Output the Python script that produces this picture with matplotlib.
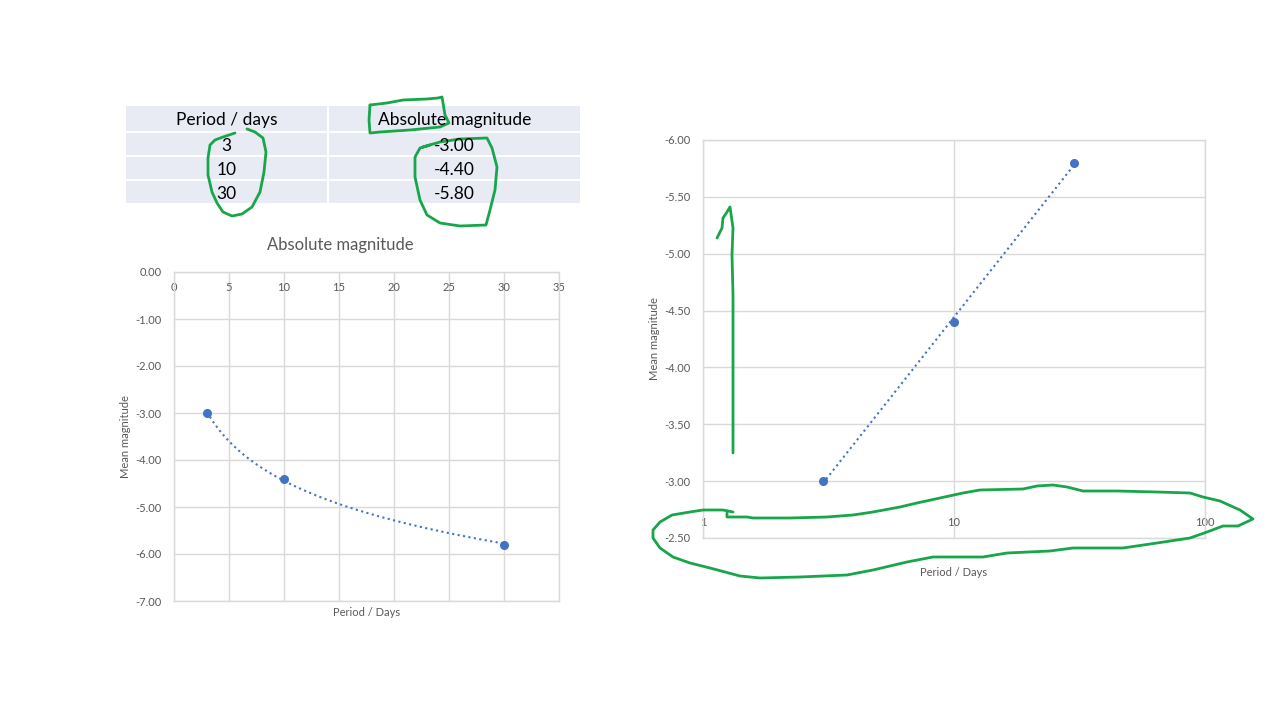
import numpy as np
import matplotlib.pyplot as plt
from matplotlib.patches import Rectangle

# =========================
# 0. 数据
# =========================

period_days = [3, 10, 30]
abs_magnitude = [-3.00, -4.40, -5.80]
table_header = ["Period / days", "Absolute magnitude"]

left_xticks = [0, 5, 10, 15, 20, 25, 30, 35]
left_yticks = [0.0, -1.0, -2.0, -3.0, -4.0, -5.0, -6.0, -7.0]
right_xticks = [1, 10, 100]
right_yticks = [-6.0, -5.5, -5.0, -4.5, -4.0, -3.5, -3.0, -2.5]

# 手绘绿色标注（像素坐标，左上角为原点）
circle_period = [(247, 129), (255, 132), (263, 138), (266, 152), (264, 172), (260, 192),
                 (252, 207), (242, 214), (232, 216), (223, 212), (217, 203), (212, 192),
                 (208, 175), (208, 158), (210, 145), (215, 140), (223, 137), (235, 133)]
box_absolute = [(370, 105), (387, 103), (403, 100), (427, 99), (438, 98), (442, 97),
                (443, 103), (445, 115), (449, 123), (440, 127), (410, 130), (380, 132),
                (370, 133), (369, 120), (370, 105)]
circle_values = [(423, 147), (440, 142), (460, 139), (487, 138), (492, 148), (497, 167),
                 (495, 190), (490, 210), (486, 225), (460, 226), (440, 223), (427, 215),
                 (420, 200), (415, 177), (415, 157), (420, 148), (430, 145)]
arrow_up = [(733, 453), (733, 428), (733, 362), (733, 295), (732, 255), (733, 228),
            (730, 207), (727, 212), (723, 218), (722, 228), (717, 238)]
loop_xaxis = [(733, 512), (723, 510), (703, 510), (690, 512), (672, 515), (660, 522),
              (653, 530), (653, 538), (660, 548), (673, 557), (690, 563), (710, 568),
              (740, 576), (760, 578), (800, 577), (847, 575), (873, 570), (907, 562),
              (933, 557), (960, 557), (983, 557), (1007, 553), (1050, 551), (1073, 548),
              (1123, 548), (1157, 543), (1190, 538), (1207, 532), (1223, 526), (1238, 526),
              (1253, 519), (1240, 510), (1220, 501), (1203, 497), (1190, 493), (1157, 492),
              (1117, 491), (1083, 491), (1067, 487), (1053, 485), (1037, 486), (1023, 489),
              (980, 490), (963, 493), (940, 498), (917, 503), (900, 507), (873, 512),
              (853, 515), (827, 517), (790, 518), (753, 518), (747, 517), (727, 517),
              (727, 513)]

# =========================
# 1. 基本设置
# =========================

plt.rcParams["font.family"] = ["Lato", "DejaVu Sans"]
grey_text = "#595959"
grid_col = "#D9D9D9"
blue = "#4472C4"
green = "#17A64A"

fig = plt.figure(figsize=(12.8, 7.2), dpi=100)

def px_rect(x0, y0, x1, y1):
    return [x0 / 1280, 1 - y1 / 720, (x1 - x0) / 1280, (y1 - y0) / 720]

# 对数趋势线 y = a ln(x) + b
a, b = np.polyfit(np.log(period_days), abs_magnitude, 1)
trend_x = np.linspace(min(period_days), max(period_days), 200)
trend_y = a * np.log(trend_x) + b


def style_axes(ax):
    for s in ax.spines.values():
        s.set_color(grid_col)
        s.set_linewidth(1)
    ax.grid(True, color=grid_col, linewidth=1)
    ax.set_axisbelow(True)
    ax.tick_params(length=0, labelsize=8, labelcolor=grey_text)


# =========================
# 2. 左图：线性坐标
# =========================

ax1 = fig.add_axes(px_rect(174, 272, 559, 601))
style_axes(ax1)
ax1.set_xlim(0, 35)
ax1.set_ylim(-7, 0)
ax1.set_xticks(left_xticks)
ax1.set_yticks(left_yticks)
ax1.set_yticklabels([f"{v:.2f}" for v in left_yticks])
ax1.xaxis.tick_top()
ax1.tick_params(axis="x", pad=-15)
ax1.tick_params(axis="y", pad=9)
ax1.plot(trend_x, trend_y, linestyle=":", color=blue, linewidth=1.5)
ax1.plot(period_days, abs_magnitude, "o", color=blue, markersize=5.5)
ax1.set_ylabel("Mean magnitude", fontsize=8, color=grey_text, labelpad=3)
ax1.set_xlabel("Period / Days", fontsize=8, color=grey_text, labelpad=4)
fig.text(340 / 1280, 1 - 245 / 720, "Absolute magnitude", ha="center", va="center",
         fontsize=12, color=grey_text)

# =========================
# 3. 右图：对数坐标，y轴反向
# =========================

ax2 = fig.add_axes(px_rect(703, 140, 1205, 538))
style_axes(ax2)
ax2.set_xscale("log")
ax2.set_xlim(1, 100)
ax2.set_ylim(-2.5, -6.0)
ax2.set_xticks(right_xticks)
ax2.set_xticklabels([str(v) for v in right_xticks])
ax2.xaxis.set_minor_locator(plt.NullLocator())
ax2.set_yticks(right_yticks)
ax2.set_yticklabels([f"{v:.2f}" for v in right_yticks])
ax2.tick_params(axis="x", pad=-15)
ax2.tick_params(axis="y", pad=9)
ax2.plot(trend_x, trend_y, linestyle=":", color=blue, linewidth=1.5)
ax2.plot(period_days, abs_magnitude, "o", color=blue, markersize=5.5)
ax2.set_ylabel("Mean magnitude", fontsize=8, color=grey_text, labelpad=3)
ax2.set_xlabel("Period / Days", fontsize=8, color=grey_text, labelpad=21)

# =========================
# 4. 表格 + 手绘标注（覆盖层，像素坐标）
# =========================

ov = fig.add_axes([0, 0, 1, 1])
ov.set_xlim(0, 1280)
ov.set_ylim(720, 0)
ov.axis("off")

row_edges = [(106, 131), (133, 155), (157, 179), (181, 203)]
col_edges = [(126, 327), (329, 580)]
table_rows = [table_header] + [[str(p), f"{m:.2f}"] for p, m in zip(period_days, abs_magnitude)]
for (y0, y1), row in zip(row_edges, table_rows):
    for (x0, x1), txt in zip(col_edges, row):
        ov.add_patch(Rectangle((x0, y0), x1 - x0, y1 - y0, facecolor="#E8EAF4", edgecolor="none"))
        ov.text((x0 + x1) / 2, (y0 + y1) / 2 + 2, txt, ha="center", va="center",
                fontsize=12.5, color="black")

for path in [circle_period, box_absolute, circle_values, arrow_up, loop_xaxis]:
    xs, ys = zip(*path)
    ov.plot(xs, ys, color=green, linewidth=2, solid_capstyle="round", solid_joinstyle="round")

plt.savefig("out.png", dpi=100)
